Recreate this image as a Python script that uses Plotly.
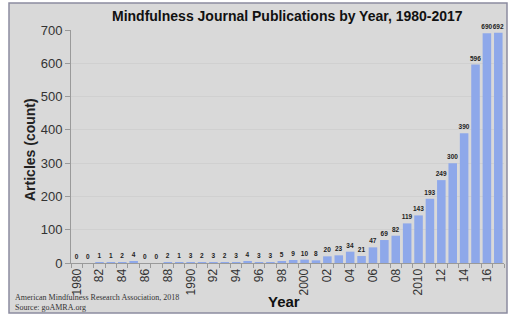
import plotly.graph_objects as go

years = list(range(1980, 2018))
articles = [0, 0, 1, 1, 2, 4, 0, 0, 2, 1,
            3, 2, 3, 2, 3, 4, 3, 3, 5, 9,
            10, 8, 20, 23, 34, 21, 47, 69, 82, 119,
            143, 193, 249, 300, 390, 596, 690, 692]
year_labels = [
    ("1980" if y == 1980 else "1990" if y == 1990 else "2000" if y == 2000
     else "2010" if y == 2010 else f"{y % 100:02d}") if y % 2 == 0 else ""
    for y in years
]
categories = [str(y) for y in years]

W, H = 515, 323
ML, MR, MT, MB = 71, 11, 30, 60
PW, PH = W - ML - MR, H - MT - MB


def px_x(x):
    return (x - ML) / PW


def px_y(y):
    return (H - MB - y) / PH


fig = go.Figure()
fig.add_trace(go.Bar(
    x=categories,
    y=articles,
    marker=dict(color="#8ea8ea", line=dict(width=0)),
    text=articles,
    texttemplate="<b>%{text}</b>",
    textposition="outside",
    textfont=dict(family="Liberation Sans", size=6.5, color="#222222"),
    cliponaxis=False,
    hoverinfo="x+y",
))

fig.update_layout(
    width=W, height=H,
    margin=dict(l=ML, r=MR, t=MT, b=MB),
    paper_bgcolor="white",
    plot_bgcolor="white",
    showlegend=False,
    bargap=0.25,
    uniformtext=dict(minsize=6.5, mode="show"),
    font=dict(family="Liberation Sans", color="#333333"),
    xaxis=dict(
        type="category",
        tickmode="array",
        tickvals=categories,
        ticktext=year_labels,
        tickangle=-90,
        tickson="boundaries",
        ticks="outside",
        ticklen=4,
        tickcolor="#9a9a9a",
        tickfont=dict(size=12, color="#333333"),
        showline=True,
        linecolor="#9a9a9a",
        showgrid=False,
    ),
    yaxis=dict(
        range=[0, 700],
        dtick=100,
        ticks="outside",
        ticklen=5,
        tickcolor="#9a9a9a",
        tickfont=dict(size=13, color="#333333"),
        gridcolor="#d0d0d0",
        showline=True,
        linecolor="#9a9a9a",
        zeroline=False,
    ),
    shapes=[dict(
        type="rect", xref="paper", yref="paper", layer="below",
        x0=px_x(9), x1=px_x(507), y0=px_y(313), y1=px_y(3),
        fillcolor="#d9d9d9", line=dict(color="#8c8ca0", width=1.5),
    )],
    annotations=[
        dict(text="<b>Mindfulness Journal Publications by Year, 1980-2017</b>",
             xref="paper", yref="paper", x=0.5, y=px_y(16),
             showarrow=False, font=dict(size=14, color="#111111"),
             xanchor="center", yanchor="middle"),
        dict(text="<b>Articles (count)</b>", textangle=-90,
             xref="paper", yref="paper", x=px_x(30), y=px_y(150),
             showarrow=False, font=dict(size=14, color="#222222"),
             xanchor="center", yanchor="middle"),
        dict(text="<b>Year</b>",
             xref="paper", yref="paper", x=px_x(284), y=px_y(301),
             showarrow=False, font=dict(size=15, color="#111111"),
             xanchor="center", yanchor="middle"),
        dict(text="American Mindfulness Research Association, 2018<br>Source: goAMRA.org",
             xref="paper", yref="paper", x=px_x(13), y=px_y(302),
             showarrow=False, align="left",
             font=dict(family="Liberation Serif", size=8, color="#333333"),
             xanchor="left", yanchor="middle"),
    ],
)

fig.write_html("out.html")
